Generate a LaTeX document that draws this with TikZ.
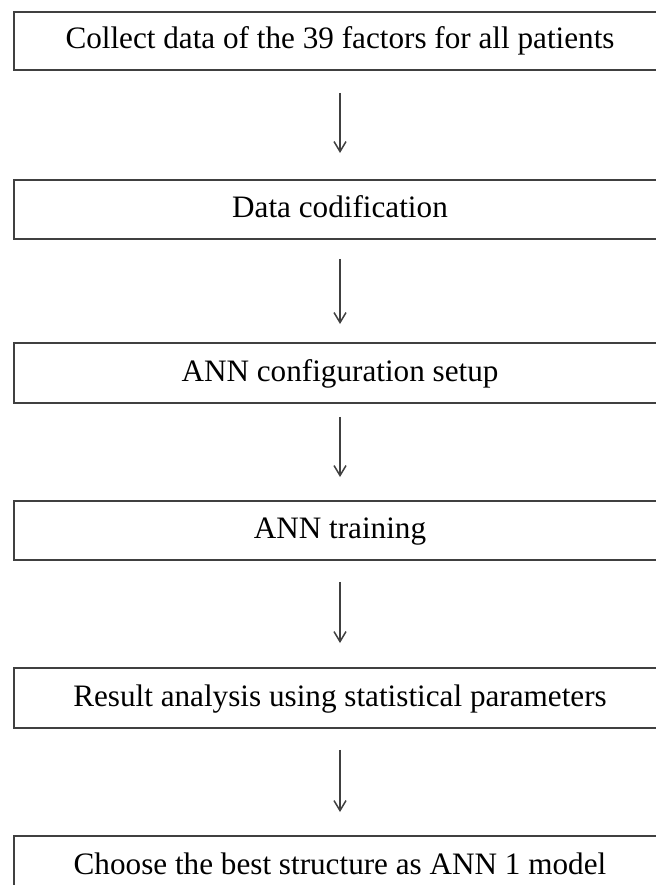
\documentclass[tikz,border=0pt]{standalone}
\usepackage{fontspec}
\setmainfont{Liberation Serif}
\usetikzlibrary{arrows.meta,calc}
\begin{document}
\begin{tikzpicture}[x=1bp,y=-1bp,
  stepbox/.style={draw=black!75,line width=1.8bp,rectangle,inner sep=0pt,
    minimum width=680bp,anchor=north west},
  steptext/.style={inner sep=0pt,anchor=base,font=\fontsize{31.3}{35}\selectfont,text=black},
  flow/.style={draw=black!75,line width=1.3bp,
    -{Straight Barb[length=10bp,width=12bp,line width=1.5bp]}}]
\useasboundingbox (0,0) rectangle (656,885);
\clip (0,0) rectangle (656,885);
% process boxes, left edge at x=13, running past the right edge
\node[stepbox,minimum height=58bp] (b1) at (13,11) {};
\node[stepbox,minimum height=59bp] (b2) at (13,179) {};
\node[stepbox,minimum height=60bp] (b3) at (13,342) {};
\node[stepbox,minimum height=59bp] (b4) at (13,500) {};
\node[stepbox,minimum height=60bp] (b5) at (13,667) {};
\node[stepbox,minimum height=70bp] (b6) at (13,835) {};
% labels, centred on the arrow axis
\node[steptext] (t1) at (340,48) {Collect data of the 39 factors for all patients};
\node[steptext] (t2) at (340,217) {Data codification};
\node[steptext] (t3) at (340,381) {ANN configuration setup};
\node[steptext] (t4) at (340,538) {ANN training};
\node[steptext] (t5) at (340,706) {Result analysis using statistical parameters};
\node[steptext] (t6) at (340,874) {Choose the best structure as ANN 1 model};
% arrows between consecutive boxes
\draw[flow,shorten <=22bp,shorten >=26bp] (b1.south -| t1.base) -- (b2.north -| t1.base);
\draw[flow,shorten <=19bp,shorten >=18bp] (b2.south -| t2.base) -- (b3.north -| t2.base);
\draw[flow,shorten <=13bp,shorten >=23bp] (b3.south -| t3.base) -- (b4.north -| t3.base);
\draw[flow,shorten <=21bp,shorten >=24bp] (b4.south -| t4.base) -- (b5.north -| t4.base);
\draw[flow,shorten <=21bp,shorten >=23bp] (b5.south -| t5.base) -- (b6.north -| t5.base);
\end{tikzpicture}
\end{document}
